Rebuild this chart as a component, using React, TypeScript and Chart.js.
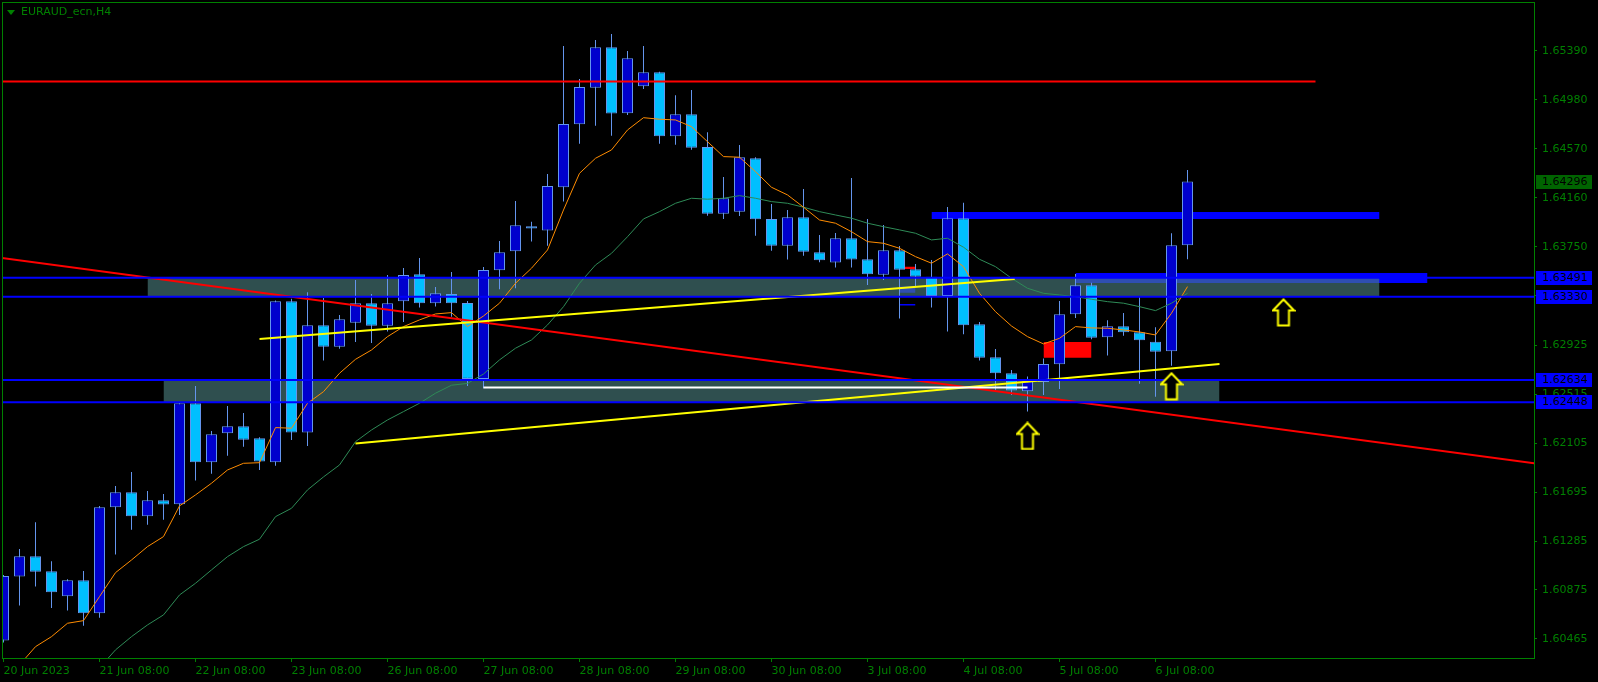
import React, { useEffect, useRef } from 'react';
import { Chart, registerables } from 'chart.js';

Chart.register(...registerables);

// ---------------- data ----------------
const OPEN = [1.60451,1.60987,1.61157,1.61032,1.60822,1.60956,1.60680,1.61568,1.61694,1.61492,
1.61626,1.61593,1.62439,1.61945,1.62188,1.62246,1.62146,1.61945,1.63293,1.62193,
1.63092,1.62913,1.63114,1.63277,1.63089,1.63293,1.63520,1.63277,1.63354,1.63279,
1.62643,1.63553,1.63712,1.63922,1.63885,1.64248,1.64776,1.65082,1.65421,1.64868,
1.65094,1.65211,1.64675,1.64860,1.64586,1.64027,1.64044,1.64491,1.63983,1.63759,
1.63997,1.63704,1.63617,1.63821,1.63645,1.63516,1.63721,1.63561,1.63499,1.63338,
1.63989,1.63101,1.62824,1.62690,1.62539,1.62617,1.62766,1.63184,1.63427,1.62992,
1.63084,1.63034,1.62955,1.62875,1.63762];
const HIGH = [1.61000,1.61219,1.61442,1.61116,1.60965,1.61034,1.61579,1.61746,1.61864,1.61704,
1.61679,1.62450,1.62584,1.62207,1.62416,1.62358,1.62154,1.63300,1.63315,1.63369,
1.63321,1.63179,1.63472,1.63354,1.63514,1.63572,1.63656,1.63413,1.63539,1.63296,
1.63581,1.63798,1.64133,1.63960,1.64360,1.65432,1.65155,1.65482,1.65532,1.65390,
1.65432,1.65215,1.65019,1.65063,1.64709,1.64334,1.64602,1.64500,1.64108,1.64058,
1.64234,1.63849,1.63865,1.64326,1.63983,1.63932,1.63757,1.63606,1.63639,1.64083,
1.64119,1.63120,1.62894,1.62718,1.62662,1.62813,1.63296,1.63522,1.63449,1.63134,
1.63195,1.63327,1.63075,1.63863,1.64393];
const LOW = [1.60434,1.60744,1.60903,1.60724,1.60702,1.60576,1.60643,1.61171,1.61380,1.61422,
1.61464,1.61503,1.61791,1.61849,1.62000,1.62075,1.61880,1.61916,1.62132,1.62081,
1.62796,1.62896,1.62952,1.62944,1.63039,1.63120,1.63240,1.63250,1.63164,1.62584,
1.62565,1.63394,1.63402,1.63793,1.63759,1.64128,1.64613,1.64764,1.64680,1.64854,
1.65072,1.64613,1.64605,1.64563,1.64010,1.63983,1.64008,1.63843,1.63717,1.63642,
1.63675,1.63620,1.63575,1.63575,1.63430,1.63472,1.63148,1.63421,1.63240,1.63039,
1.63017,1.62796,1.62550,1.62508,1.62369,1.62508,1.62559,1.63153,1.62975,1.62838,
1.63005,1.62603,1.62494,1.62754,1.63645];
const CLOSE = [1.60992,1.61157,1.61028,1.60856,1.60956,1.60680,1.61568,1.61694,1.61492,1.61626,
1.61590,1.62439,1.61945,1.62179,1.62246,1.62134,1.61950,1.63293,1.62193,1.63092,
1.62913,1.63143,1.63277,1.63089,1.63277,1.63514,1.63277,1.63360,1.63277,1.62643,
1.63555,1.63704,1.63930,1.63902,1.64259,1.64778,1.65088,1.65421,1.64865,1.65329,
1.65211,1.64675,1.64860,1.64580,1.64027,1.64156,1.64499,1.63980,1.63759,1.63997,
1.63709,1.63637,1.63821,1.63642,1.63519,1.63721,1.63558,1.63499,1.63338,1.63989,
1.63092,1.62821,1.62690,1.62545,1.62623,1.62768,1.63184,1.63427,1.62988,1.63084,
1.63034,1.62967,1.62871,1.63762,1.64296];

// moving averages
const MA_FAST = [1.60079,1.60247,1.60400,1.60484,1.60596,1.60618,1.60819,1.61020,1.61126,1.61238,
1.61322,1.61579,1.61671,1.61769,1.61880,1.61936,1.61941,1.62235,1.62230,1.62439,
1.62536,1.62690,1.62807,1.62885,1.62997,1.63081,1.63137,1.63187,1.63198,1.63081,
1.63170,1.63277,1.63444,1.63570,1.63723,1.64058,1.64365,1.64491,1.64561,1.64728,
1.64831,1.64818,1.64812,1.64756,1.64630,1.64505,1.64500,1.64379,1.64248,1.64184,
1.64081,1.63974,1.63947,1.63876,1.63793,1.63779,1.63737,1.63667,1.63612,1.63690,
1.63583,1.63360,1.63206,1.63086,1.62997,1.62936,1.62983,1.63081,1.63070,1.63067,
1.63053,1.63036,1.63011,1.63193,1.63416];
const MA_SLOW = [null,null,null,null,null,1.60163,1.60222,1.60373,1.60484,1.60582,
1.60666,1.60833,1.60931,1.61043,1.61154,1.61238,1.61300,1.61489,1.61559,1.61713,
1.61822,1.61922,1.62117,1.62215,1.62299,1.62369,1.62439,1.62523,1.62590,1.62605,
1.62684,1.62802,1.62900,1.62969,1.63095,1.63248,1.63444,1.63597,1.63695,1.63834,
1.63983,1.64044,1.64114,1.64156,1.64148,1.64156,1.64178,1.64156,1.64128,1.64114,
1.64081,1.64044,1.64016,1.63989,1.63947,1.63918,1.63891,1.63863,1.63807,1.63821,
1.63746,1.63645,1.63583,1.63486,1.63402,1.63360,1.63346,1.63332,1.63310,1.63290,
1.63277,1.63248,1.63215,1.63277,1.63360];

const X_TICKS = [0, 6, 12, 18, 24, 30, 36, 42, 48, 54, 60, 66, 72];
const X_LABELS = ['20 Jun 2023', '21 Jun 08:00', '22 Jun 08:00', '23 Jun 08:00', '26 Jun 08:00',
  '27 Jun 08:00', '28 Jun 08:00', '29 Jun 08:00', '30 Jun 08:00', '3 Jul 08:00',
  '4 Jul 08:00', '5 Jul 08:00', '6 Jul 08:00'];
const Y_TICKS = [1.65390, 1.64980, 1.64570, 1.64160, 1.63750, 1.63340, 1.62925, 1.62515,
  1.62105, 1.61695, 1.61285, 1.60875, 1.60465];

const H_LEVELS = [1.63491, 1.63330, 1.62634, 1.62448];
const LAST_PRICE = 1.64296;

const RED_LEVEL_X = [-0.1, 82];
const RED_LEVEL_Y = [1.65134, 1.65134];
const TREND_RED_X = [-0.1, 95.7];
const TREND_RED_Y = [1.63656, 1.61935];
const TREND_YEL1_X = [16, 63.2];
const TREND_YEL1_Y = [1.62978, 1.63480];
const TREND_YEL2_X = [22, 76];
const TREND_YEL2_Y = [1.62101, 1.62768];
const WHITE_X = [30, 64];
const WHITE_Y = [1.62570, 1.62570];

const RECT_FROM = [9, 10, 65, 58, 67, 67, 56, 56, 56];
const RECT_TO = [86, 76, 68, 86, 89, 86, 57, 57, 57];
const RECT_HI = [1.63491, 1.62634, 1.62952, 1.64041, 1.63530, 1.63491, 1.63583, 1.63417, 1.63271];
const RECT_LO = [1.63330, 1.62448, 1.62821, 1.63983, 1.63447, 1.63447, 1.63564, 1.63365, 1.63257];

const ARROW_X = [64, 73, 80];
const ARROW_Y = [1.62165, 1.62581, 1.63200];

// ---------------- styles ----------------
const RECT_COLORS = ['#2F4F4F', '#2F4F4F', '#FF0000', '#0000FF', '#0000FF', '#2F4FB0', '#FF0000', '#2F4FB0', '#0000FF'];
const GREEN = '#008000';
const FONT = '"DejaVu Sans", sans-serif';
const BULL = '#0000CD';
const BEAR = '#00BFFF';
const WICK = '#6495ED';
const X_MIN = -0.09375;
const X_MAX = X_MIN + 1532 / 16;
const Y_MAX = 1.65800;
const Y_MIN = 1.60305;

function makeArrow(): HTMLCanvasElement {
  const c = document.createElement('canvas');
  c.width = 24;
  c.height = 29;
  const g = c.getContext('2d')!;
  g.beginPath();
  g.moveTo(12, 1.5);
  g.lineTo(22.5, 12.5);
  g.lineTo(17.5, 12.5);
  g.lineTo(17.5, 27.5);
  g.lineTo(6.5, 27.5);
  g.lineTo(6.5, 12.5);
  g.lineTo(1.5, 12.5);
  g.closePath();
  g.fillStyle = '#000000';
  g.fill();
  g.strokeStyle = '#FFFF00';
  g.lineWidth = 2;
  g.stroke();
  return c;
}

const mt4Plugin = {
  id: 'mt4',
  beforeDraw(chart: any) {
    const ctx = chart.ctx;
    ctx.save();
    ctx.fillStyle = '#000000';
    ctx.fillRect(0, 0, chart.width, chart.height);
    ctx.restore();
  },
  afterDraw(chart: any) {
    const ctx = chart.ctx;
    const a = chart.chartArea;
    const y = chart.scales.y;
    ctx.save();
    ctx.strokeStyle = GREEN;
    ctx.lineWidth = 1;
    ctx.strokeRect(a.left + 0.5, a.top + 0.5, a.right - a.left, a.bottom - a.top);
    ctx.fillStyle = GREEN;
    ctx.beginPath();
    ctx.moveTo(7, 10);
    ctx.lineTo(15, 10);
    ctx.lineTo(11, 15);
    ctx.closePath();
    ctx.fill();
    ctx.font = '11px ' + FONT;
    ctx.textBaseline = 'middle';
    ctx.textAlign = 'left';
    ctx.fillText('EURAUD_ecn,H4', 21, 12.5);
    const boxes: [number, string][] = [[LAST_PRICE, '#006400']];
    H_LEVELS.forEach((v) => boxes.push([v, '#0000FF']));
    boxes.forEach(([v, col]) => {
      const py = Math.round(y.getPixelForValue(v));
      ctx.fillStyle = col;
      ctx.fillRect(a.right + 2, py - 7, 56, 14);
      ctx.fillStyle = '#000000';
      ctx.fillText(v.toFixed(5), a.right + 8, py + 0.5);
    });
    ctx.restore();
  },
};

export default function App() {
  const ref = useRef<HTMLCanvasElement>(null);

  useEffect(() => {
    document.body.style.margin = '0';
    document.body.style.background = '#000';
    const canvas = ref.current;
    if (!canvas) return;
    const idx = OPEN.map((_, i) => i);
    const datasets: any[] = [];

    RECT_FROM.forEach((from, k) => {
      const topIndex = datasets.length;
      datasets.push({
        type: 'line',
        data: [{ x: from, y: RECT_HI[k] }, { x: RECT_TO[k], y: RECT_HI[k] }],
        borderColor: 'rgba(0,0,0,0)',
        borderWidth: 0,
        pointRadius: 0,
        fill: false,
        order: 100 - k * 2,
      });
      datasets.push({
        type: 'line',
        data: [{ x: from, y: RECT_LO[k] }, { x: RECT_TO[k], y: RECT_LO[k] }],
        borderColor: 'rgba(0,0,0,0)',
        borderWidth: 0,
        pointRadius: 0,
        fill: topIndex,
        backgroundColor: RECT_COLORS[k],
        order: 99 - k * 2,
      });
    });

    datasets.push({
      type: 'bar',
      data: idx.map((i) => ({ x: i, y: [LOW[i], HIGH[i]] })),
      backgroundColor: WICK,
      borderWidth: 0,
      barThickness: 1,
      grouped: false,
      inflateAmount: 0,
      order: 20,
    });
    datasets.push({
      type: 'bar',
      data: idx.map((i) => ({ x: i, y: [OPEN[i], CLOSE[i]] })),
      backgroundColor: (c: any) => (CLOSE[c.dataIndex] >= OPEN[c.dataIndex] ? BULL : BEAR),
      borderColor: WICK,
      borderWidth: 1,
      borderSkipped: false,
      barThickness: 11,
      grouped: false,
      inflateAmount: 0,
      order: 19,
    });

    const line = (xs: number[], ys: (number | null)[], color: string, width: number, order: number) => ({
      type: 'line',
      data: xs.map((x, i) => ({ x, y: ys[i] })),
      borderColor: color,
      borderWidth: width,
      pointRadius: 0,
      fill: false,
      tension: 0,
      borderCapStyle: 'butt',
      order,
    });

    datasets.push(line(idx, MA_SLOW, '#2E8B57', 1, 10));
    datasets.push(line(idx, MA_FAST, '#FF8C00', 1, 9));
    datasets.push(line(RED_LEVEL_X, RED_LEVEL_Y, '#FF0000', 2, 8));
    datasets.push(line(TREND_RED_X, TREND_RED_Y, '#FF0000', 2, 7));
    datasets.push(line(TREND_YEL1_X, TREND_YEL1_Y, '#FFFF00', 2, 6));
    datasets.push(line(TREND_YEL2_X, TREND_YEL2_Y, '#FFFF00', 2, 6));
    datasets.push(line(WHITE_X, WHITE_Y, '#FFFFFF', 2, 5));
    H_LEVELS.forEach((v) => datasets.push(line([X_MIN, X_MAX], [v, v], '#0000FF', 2, 4)));

    datasets.push({
      type: 'line',
      data: ARROW_X.map((x, i) => ({ x, y: ARROW_Y[i] })),
      showLine: false,
      pointStyle: makeArrow(),
      pointRadius: 12,
      order: 1,
    });

    const zeroPad = (s: any) => {
      s.paddingTop = 0;
      s.paddingBottom = 0;
      s.paddingLeft = 0;
      s.paddingRight = 0;
    };

    const chart = new Chart(canvas, {
      type: 'bar',
      data: { datasets },
      plugins: [mt4Plugin],
      options: {
        animation: false,
        responsive: false,
        devicePixelRatio: 1,
        events: [],
        layout: { padding: { left: 2, top: 2, right: 0, bottom: 0 }, autoPadding: false },
        plugins: { legend: { display: false }, tooltip: { enabled: false }, title: { display: false } },
        scales: {
          x: {
            type: 'linear',
            min: X_MIN,
            max: X_MAX,
            offset: false,
            grid: { display: true, offset: false, drawOnChartArea: false, drawTicks: true, tickLength: 4, color: GREEN, tickColor: GREEN },
            border: { display: false },
            ticks: {
              autoSkip: false,
              maxRotation: 0,
              minRotation: 0,
              align: 'start',
              padding: 3,
              color: GREEN,
              font: { size: 11, family: FONT },
              callback: (v: any) => {
                const k = X_TICKS.indexOf(Number(v));
                return k >= 0 ? X_LABELS[k] : '';
              },
            },
            afterBuildTicks: (s: any) => {
              s.ticks = X_TICKS.map((v) => ({ value: v }));
            },
            afterFit: (s: any) => {
              s.height = 24;
              zeroPad(s);
            },
          },
          y: {
            type: 'linear',
            position: 'right',
            min: Y_MIN,
            max: Y_MAX,
            grid: { display: true, drawOnChartArea: false, drawTicks: true, tickLength: 3, color: GREEN, tickColor: GREEN },
            border: { display: false },
            ticks: {
              autoSkip: false,
              padding: 5,
              color: GREEN,
              font: { size: 11, family: FONT },
              callback: (v: any) => Number(v).toFixed(5),
            },
            afterBuildTicks: (s: any) => {
              s.ticks = Y_TICKS.map((v) => ({ value: v }));
            },
            afterFit: (s: any) => {
              s.width = 64;
              zeroPad(s);
            },
          },
        },
      } as any,
    } as any);
    return () => chart.destroy();
  }, []);

  return (
    <div style={{ width: 1598, height: 682, position: 'relative', background: '#000' }}>
      <canvas ref={ref} width={1598} height={682} style={{ display: 'block', width: 1598, height: 682 }} />
    </div>
  );
}
